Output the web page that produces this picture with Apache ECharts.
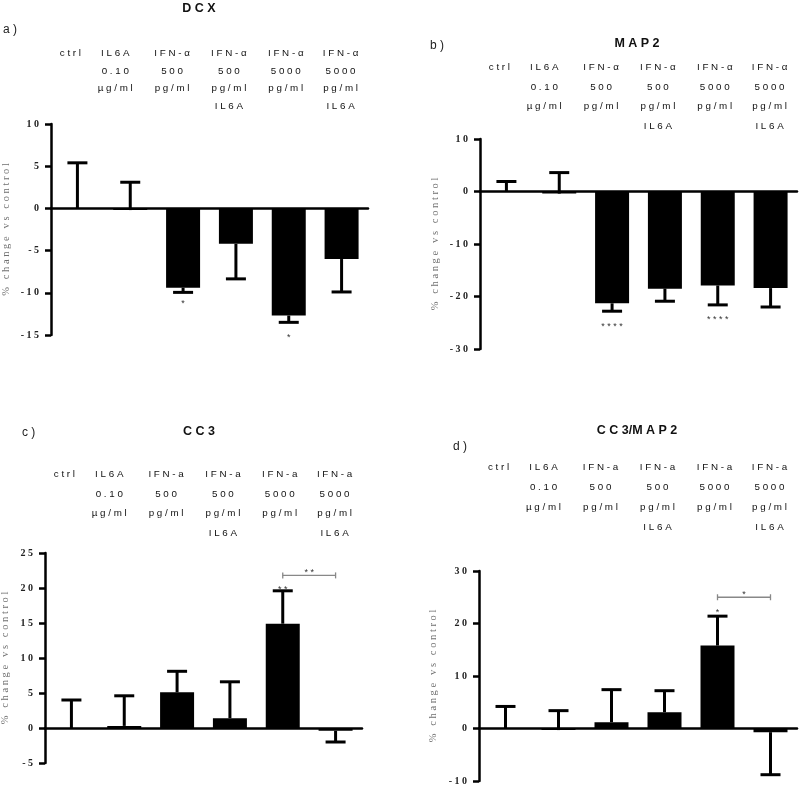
<!DOCTYPE html>
<html><head><meta charset="utf-8">
<script src="https://cdn.jsdelivr.net/npm/echarts@6/dist/echarts.min.js"></script>
<style>html,body{margin:0;padding:0;background:#fff}#c{width:800px;height:789px}</style>
</head><body><div id="c"></div><script>
// ---- data ----
const catsAlpha = ['ctrl', 'IL6A\n0.10\nµg/ml', 'IFN-α\n500\npg/ml', 'IFN-α\n500\npg/ml\nIL6A', 'IFN-α\n5000\npg/ml', 'IFN-α\n5000\npg/ml\nIL6A'];
const catsA = ['ctrl', 'IL6A\n0.10\nµg/ml', 'IFN-a\n500\npg/ml', 'IFN-a\n500\npg/ml\nIL6A', 'IFN-a\n5000\npg/ml', 'IFN-a\n5000\npg/ml\nIL6A'];
const titles = ['D C X', 'M A P 2', 'C C 3', 'C C 3/M A P 2'];
const panelLetters = ['a )', 'b )', 'c )', 'd )'];
const yName = '% change vs control';

const dcxMean = [0, -0.2, -9.4, -4.2, -12.7, -6.0];
const dcxErrEnd = [5.4, 3.1, -9.95, -8.35, -13.5, -9.9];
const dcxAxis = [-15, 10, 5];
const dcxSig = [[2, -11.3, '*'], [4, -15.3, '*']];
const dcxBracket = [];

const map2Mean = [0, -0.4, -21.3, -18.5, -17.9, -18.4];
const map2ErrEnd = [1.9, 3.6, -22.8, -20.9, -21.6, -22.0];
const map2Axis = [-30, 10, 10];
const map2Sig = [[2, -25.8, '****'], [4, -24.4, '****']];
const map2Bracket = [];

const cc3Mean = [0, 0.3, 5.1, 1.4, 14.9, -0.4];
const cc3ErrEnd = [4.0, 4.6, 8.1, 6.6, 19.6, -2.0];
const cc3Axis = [-5, 25, 5];
const cc3Sig = [[4, 19.8, '**']];
const cc3Bracket = [[4, 5, 21.8, '**']];

const ratioMean = [0, -0.3, 1.2, 3.1, 15.8, -0.7];
const ratioErrEnd = [4.2, 3.4, 7.4, 7.2, 21.4, -8.8];
const ratioAxis = [-10, 30, 10];
const ratioSig = [[4, 22.0, '*']];
const ratioBracket = [[4, 5, 25.0, '*']];

// ---- layout / style ----
const headerShift = [7, 15, 11, 7, 3, 1]; // px the header columns sit left of the bar centres
const sp = s => s.split('\n').map(l => l.split('').join(' ')).join('\n');
const panels = [
  {cats: catsAlpha, mean: dcxMean, err: dcxErrEnd, axis: dcxAxis, sig: dcxSig, br: dcxBracket,
   grid: {left: 51, top: 124, width: 317, height: 211}, hm: 79, lh: 17.5, gap: 39,
   title: [199, 9], letter: [3, 30]},
  {cats: catsAlpha, mean: map2Mean, err: map2ErrEnd, axis: map2Axis, sig: map2Sig, br: map2Bracket,
   grid: {left: 480, top: 139, width: 317, height: 210}, hm: 81, lh: 19.5, gap: 39,
   title: [637, 44], letter: [430, 46]},
  {cats: catsA, mean: cc3Mean, err: cc3ErrEnd, axis: cc3Axis, sig: cc3Sig, br: cc3Bracket,
   grid: {left: 45, top: 553, width: 317, height: 210}, hm: 88, lh: 19.5, gap: 34,
   title: [199, 432], letter: [22, 433]},
  {cats: catsA, mean: ratioMean, err: ratioErrEnd, axis: ratioAxis, sig: ratioSig, br: ratioBracket,
   grid: {left: 479, top: 571, width: 318, height: 210}, hm: 114, lh: 20, gap: 40,
   title: [637, 431], letter: [453, 447]}
];

const grids = [], xAxes = [], yAxes = [], series = [], graphics = [];
panels.forEach((p, i) => {
  grids.push(Object.assign({containLabel: false, outerBoundsMode: 'none'}, p.grid));
  const headStyle = {verticalAlign: 'top', align: 'center', lineHeight: p.lh,
    fontFamily: 'Liberation Sans, Arial', fontSize: 9.8, color: '#111'};
  // zero axis
  xAxes.push({type: 'category', gridIndex: i, data: p.cats, boundaryGap: true,
    axisLine: {onZero: true, lineStyle: {color: '#000', width: 2.5}},
    axisTick: {show: false}, axisLabel: {show: false}, splitLine: {show: false}});
  // header axis
  xAxes.push({type: 'category', gridIndex: i, position: 'top', boundaryGap: true,
    data: p.cats.map((c, k) => ({value: sp(c),
      textStyle: Object.assign({padding: [0, 2 * headerShift[k], 0, 0]}, headStyle)})),
    axisLine: {show: false, onZero: false}, axisTick: {show: false}, splitLine: {show: false},
    axisLabel: Object.assign({interval: 0, hideOverlap: false, margin: p.hm}, headStyle)});
  yAxes.push({type: 'value', gridIndex: i, min: p.axis[0], max: p.axis[1], interval: p.axis[2],
    name: sp(yName), nameLocation: 'middle', nameRotate: 90, nameGap: p.gap, nameMoveOverlap: false,
    nameTextStyle: {fontFamily: 'Liberation Serif, serif', fontSize: 10.5, color: '#707070'},
    axisLine: {show: true, lineStyle: {color: '#000', width: 2.5}},
    axisTick: {show: true, length: 6, lineStyle: {color: '#000', width: 2.5}},
    axisLabel: {margin: 12, fontFamily: 'Liberation Serif, serif', fontWeight: 'bold', fontSize: 10, color: '#222',
      formatter: v => String(v).split('').join(' ')},
    splitLine: {show: false}});
  series.push({type: 'bar', xAxisIndex: 2 * i, yAxisIndex: i, data: p.mean, barWidth: 34,
    itemStyle: {color: '#000'}, z: 2, silent: true});
  series.push({type: 'custom', xAxisIndex: 2 * i, yAxisIndex: i, z: 3, silent: true,
    data: p.err.map((e, k) => [k, p.mean[k], e]),
    renderItem: (params, api) => {
      const a = api.coord([api.value(0), api.value(1)]);
      const b = api.coord([api.value(0), api.value(2)]);
      const st = {stroke: '#000', lineWidth: 3};
      return {type: 'group', children: [
        {type: 'line', shape: {x1: a[0], y1: a[1], x2: b[0], y2: b[1]}, style: st},
        {type: 'line', shape: {x1: b[0] - 10, y1: b[1], x2: b[0] + 10, y2: b[1]}, style: st}
      ]};
    }});
  series.push({type: 'custom', xAxisIndex: 2 * i, yAxisIndex: i, z: 4, silent: true,
    data: p.sig.map(s => [s[0], s[1]]),
    renderItem: (params, api) => {
      const c = api.coord([api.value(0), api.value(1)]);
      return {type: 'text', x: c[0], y: c[1], style: {text: sp(p.sig[params.dataIndex][2]),
        align: 'center', verticalAlign: 'middle', fill: '#333', font: '9px Liberation Sans, Arial'}};
    }});
  if (p.br.length) series.push({type: 'custom', xAxisIndex: 2 * i, yAxisIndex: i, z: 4, silent: true,
    data: p.br.map(b => [b[0], b[1], b[2]]),
    renderItem: (params, api) => {
      const a = api.coord([api.value(0), api.value(2)]);
      const b = api.coord([api.value(1), api.value(2)]);
      const st = {stroke: '#888', lineWidth: 1.3};
      return {type: 'group', children: [
        {type: 'line', shape: {x1: a[0], y1: a[1], x2: b[0], y2: b[1]}, style: st},
        {type: 'line', shape: {x1: a[0], y1: a[1] - 3, x2: a[0], y2: a[1] + 3}, style: st},
        {type: 'line', shape: {x1: b[0], y1: b[1] - 3, x2: b[0], y2: b[1] + 3}, style: st},
        {type: 'text', x: (a[0] + b[0]) / 2, y: a[1] - 3, style: {text: sp(p.br[params.dataIndex][3]),
          align: 'center', verticalAlign: 'middle', fill: '#333', font: '9px Liberation Sans, Arial'}}
      ]};
    }});
  graphics.push({type: 'text', x: p.title[0], y: p.title[1], style: {text: titles[i], align: 'center',
    verticalAlign: 'middle', fill: '#111', font: 'bold 12.5px Liberation Sans, Arial'}});
  graphics.push({type: 'text', x: p.letter[0], y: p.letter[1], style: {text: panelLetters[i], align: 'left',
    verticalAlign: 'middle', fill: '#222', font: '12px Liberation Sans, Arial'}});
});

const chart = echarts.init(document.getElementById('c'), null, {renderer: 'canvas'});
chart.setOption({animation: false, backgroundColor: '#fff', grid: grids, xAxis: xAxes, yAxis: yAxes,
  series: series, graphic: graphics});
</script></body></html>
